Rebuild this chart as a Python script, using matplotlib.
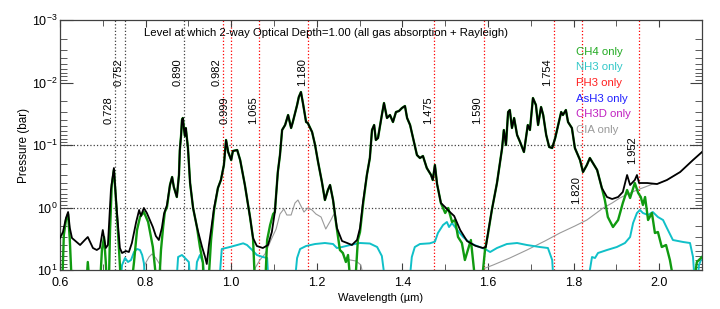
import numpy as np
import matplotlib.pyplot as plt
from matplotlib.ticker import MultipleLocator, LogLocator, NullFormatter

plt.rcParams['font.family'] = ['Liberation Sans', 'DejaVu Sans']
plt.rcParams['mathtext.fontset'] = 'custom'
plt.rcParams['mathtext.rm'] = 'Liberation Sans'
plt.rcParams['mathtext.it'] = 'Liberation Sans:italic'

# ---- data (wavelength in um, log10 of pressure in bar) ----
# 1.3 means the curve is below the bottom of the plot
total_wl = [0.600, 0.607, 0.614, 0.619, 0.623, 0.628, 0.647, 0.658, 0.665, 0.677, 0.686, 0.693,
            0.700, 0.707, 0.712, 0.719, 0.726, 0.733, 0.740, 0.745, 0.754, 0.761, 0.768, 0.778,
            0.785, 0.789, 0.796, 0.803, 0.810, 0.817, 0.824, 0.831, 0.838, 0.843, 0.850, 0.857,
            0.862, 0.866, 0.873, 0.878, 0.880, 0.883, 0.885, 0.887, 0.890, 0.892, 0.894, 0.899,
            0.904, 0.911, 0.920, 0.932, 0.939, 0.943, 0.948, 0.953, 0.960, 0.969, 0.976, 0.983,
            0.988, 0.993, 1.000, 1.004, 1.014, 1.021, 1.032, 1.044, 1.051, 1.060, 1.074, 1.086,
            1.095, 1.102, 1.109, 1.114, 1.119, 1.126, 1.133, 1.140, 1.144, 1.154, 1.158, 1.163,
            1.168, 1.175, 1.179, 1.189, 1.196, 1.203, 1.212, 1.219, 1.226, 1.231, 1.238, 1.247,
            1.259, 1.271, 1.282, 1.294, 1.301, 1.308, 1.317, 1.324, 1.329, 1.334, 1.338, 1.343,
            1.352, 1.357, 1.364, 1.371, 1.378, 1.385, 1.392, 1.399, 1.406, 1.411, 1.418, 1.425,
            1.434, 1.441, 1.448, 1.457, 1.467, 1.471, 1.476, 1.481, 1.490, 1.502, 1.511, 1.521,
            1.535, 1.551, 1.570, 1.588, 1.595, 1.600, 1.609, 1.621, 1.633, 1.637, 1.642, 1.647,
            1.651, 1.656, 1.661, 1.668, 1.675, 1.684, 1.693, 1.698, 1.705, 1.712, 1.717, 1.724,
            1.729, 1.736, 1.743, 1.750, 1.757, 1.764, 1.771, 1.775, 1.782, 1.787, 1.796, 1.803,
            1.815, 1.822, 1.831, 1.838, 1.848, 1.855, 1.866, 1.878, 1.890, 1.904, 1.915, 1.925,
            1.932, 1.943, 1.948, 1.953, 1.972, 1.995, 2.018, 2.049, 2.079, 2.100]
total_logp = [0.488, 0.392, 0.168, 0.072, 0.328, 0.488, 0.600, 0.520, 0.472, 0.648, 0.680, 0.648,
              0.360, 0.648, 0.600, -0.280, -0.632, 0.072, 0.648, 0.728, 0.696, 0.712, 0.568, 0.232,
              0.040, 0.136, 0.008, 0.088, 0.200, 0.312, 0.456, 0.520, 0.328, 0.104, -0.040, -0.360,
              -0.488, -0.328, -0.168, -0.520, -0.920, -1.160, -1.400, -1.432, -1.240, -1.144, -1.272, -0.952,
              -0.392, 0.008, 0.312, 0.632, 0.792, 0.904, 0.600, 0.360, 0.008, -0.312, -0.440, -0.680,
              -1.080, -0.888, -0.760, -0.904, -0.920, -0.760, -0.360, 0.152, 0.488, 0.616, 0.648, 0.600,
              0.392, 0.072, -0.568, -0.840, -1.240, -1.320, -1.480, -1.272, -1.368, -1.640, -1.768, -1.848,
              -1.656, -1.368, -1.352, -1.208, -1.000, -0.728, -0.408, -0.120, -0.280, -0.360, -0.120, 0.328,
              0.536, 0.568, 0.600, 0.520, 0.328, -0.088, -0.520, -0.792, -1.240, -1.320, -1.080, -1.112,
              -1.480, -1.672, -1.432, -1.480, -1.368, -1.528, -1.544, -1.592, -1.624, -1.432, -1.320, -1.112,
              -0.840, -0.792, -0.824, -0.632, -0.520, -0.440, -0.680, -0.376, -0.072, 0.008, 0.072, 0.136,
              0.360, 0.536, 0.611, 0.648, 0.632, 0.408, 0.040, -0.392, -0.952, -1.240, -1.000, -1.528,
              -1.560, -1.272, -1.432, -1.160, -1.048, -0.888, -1.320, -1.240, -1.752, -1.640, -1.320, -1.608,
              -1.480, -1.160, -0.968, -0.952, -1.112, -1.320, -1.528, -1.480, -1.560, -1.368, -1.272, -0.952,
              -0.760, -0.568, -0.680, -0.792, -0.680, -0.600, -0.312, -0.168, -0.136, -0.168, -0.248, -0.520,
              -0.360, -0.440, -0.520, -0.392, -0.392, -0.376, -0.440, -0.568, -0.760, -0.888]

ch4_wl = [0.600, 0.605, 0.609, 0.614, 0.619, 0.623, 0.628, 0.661, 0.665, 0.670, 0.693, 0.698,
          0.703, 0.707, 0.710, 0.714, 0.717, 0.721, 0.726, 0.733, 0.738, 0.743, 0.766, 0.773,
          0.780, 0.787, 0.796, 0.806, 0.817, 0.827, 0.831, 0.836, 0.841, 0.845, 0.850, 0.857,
          0.862, 0.866, 0.873, 0.878, 0.880, 0.883, 0.885, 0.887, 0.890, 0.892, 0.894, 0.899,
          0.904, 0.911, 0.920, 0.927, 0.934, 0.936, 0.946, 0.953, 0.960, 0.969, 0.976, 0.983,
          0.988, 0.993, 1.000, 1.004, 1.014, 1.021, 1.032, 1.044, 1.051, 1.056, 1.079, 1.084,
          1.091, 1.098, 1.102, 1.109, 1.114, 1.119, 1.126, 1.133, 1.140, 1.144, 1.154, 1.158,
          1.163, 1.168, 1.175, 1.179, 1.189, 1.196, 1.203, 1.212, 1.219, 1.226, 1.231, 1.238,
          1.245, 1.254, 1.261, 1.268, 1.273, 1.280, 1.289, 1.296, 1.301, 1.308, 1.317, 1.324,
          1.329, 1.334, 1.338, 1.343, 1.352, 1.357, 1.364, 1.371, 1.378, 1.385, 1.392, 1.399,
          1.406, 1.411, 1.418, 1.425, 1.434, 1.441, 1.448, 1.457, 1.467, 1.471, 1.476, 1.481,
          1.490, 1.500, 1.507, 1.516, 1.523, 1.530, 1.539, 1.546, 1.553, 1.560, 1.565, 1.572,
          1.584, 1.593, 1.600, 1.609, 1.621, 1.633, 1.637, 1.642, 1.647, 1.651, 1.656, 1.661,
          1.668, 1.675, 1.684, 1.693, 1.698, 1.705, 1.712, 1.717, 1.724, 1.729, 1.736, 1.743,
          1.750, 1.757, 1.764, 1.771, 1.775, 1.782, 1.787, 1.796, 1.803, 1.815, 1.822, 1.831,
          1.838, 1.848, 1.855, 1.866, 1.873, 1.880, 1.892, 1.904, 1.915, 1.925, 1.932, 1.943,
          1.951, 1.957, 1.962, 1.967, 1.974, 1.983, 1.990, 1.997, 2.006, 2.016, 2.025, 2.037,
          2.079, 2.088, 2.100]
ch4_logp = [1.3, 1.3, 0.440, 0.200, 0.104, 0.520, 1.3, 1.3, 0.872, 1.3, 1.3, 0.680,
            0.472, 0.872, 1.3, 1.3, 0.360, -0.360, -0.600, 0.104, 0.680, 1.3, 1.3, 0.872,
            0.360, 0.152, 0.072, 0.232, 0.632, 1.3, 1.3, 0.680, 0.312, 0.072, -0.008, -0.360,
            -0.488, -0.328, -0.168, -0.520, -0.920, -1.160, -1.400, -1.432, -1.240, -1.144, -1.272, -0.952,
            -0.392, 0.008, 0.312, 0.632, 0.888, 1.3, 1.3, 0.520, 0.040, -0.312, -0.440, -0.680,
            -1.080, -0.888, -0.760, -0.904, -0.920, -0.760, -0.360, 0.152, 0.488, 1.3, 1.3, 0.520,
            0.280, 0.104, 0.072, -0.568, -0.840, -1.240, -1.320, -1.480, -1.272, -1.368, -1.640, -1.768,
            -1.848, -1.656, -1.368, -1.352, -1.208, -1.000, -0.728, -0.408, -0.120, -0.280, -0.360, -0.120,
            0.248, 0.680, 0.728, 0.872, 0.760, 1.3, 1.3, 0.520, 0.392, -0.040, -0.520, -0.792,
            -1.240, -1.320, -1.080, -1.112, -1.480, -1.672, -1.432, -1.480, -1.368, -1.528, -1.544, -1.592,
            -1.624, -1.432, -1.320, -1.112, -0.840, -0.792, -0.824, -0.632, -0.520, -0.440, -0.680, -0.376,
            -0.072, 0.088, 0.008, 0.232, 0.200, 0.472, 0.568, 0.840, 0.680, 0.520, 0.840, 1.3,
            1.3, 0.680, 0.424, 0.040, -0.392, -0.952, -1.240, -1.000, -1.528, -1.560, -1.272, -1.432,
            -1.160, -1.048, -0.888, -1.320, -1.240, -1.752, -1.640, -1.320, -1.608, -1.480, -1.160, -0.968,
            -0.952, -1.112, -1.320, -1.528, -1.480, -1.560, -1.368, -1.272, -0.952, -0.760, -0.568, -0.680,
            -0.792, -0.680, -0.600, -0.312, -0.120, 0.152, 0.312, 0.200, -0.072, -0.280, -0.152, -0.392,
            -0.232, -0.168, -0.040, -0.168, 0.200, 0.088, 0.408, 0.392, 0.632, 0.600, 0.840, 1.3,
            1.3, 0.872, 0.792]

nh3_wl = [0.740, 0.745, 0.752, 0.759, 0.766, 0.773, 0.780, 0.787, 0.792, 0.796, 0.801,
          0.871, 0.876, 0.885, 0.892, 0.901, 0.906, 0.915, 0.920, 0.927, 0.934, 0.939,
          0.971, 0.978, 0.997, 1.014, 1.028, 1.037, 1.049, 1.060, 1.074, 1.084, 1.088,
          1.147, 1.154, 1.161, 1.175, 1.196, 1.219, 1.238, 1.247, 1.259, 1.278, 1.301, 1.324,
          1.341, 1.352, 1.362, 1.415, 1.422, 1.429, 1.441, 1.464, 1.476, 1.483, 1.495, 1.504,
          1.509, 1.516, 1.528, 1.542, 1.558, 1.574, 1.593, 1.605, 1.621, 1.644, 1.668, 1.691,
          1.721, 1.740, 1.750, 1.754, 1.831, 1.843, 1.850, 1.857, 1.878, 1.901, 1.920, 1.932,
          1.939, 1.948, 1.955, 1.962, 1.974, 1.985, 1.997, 2.009, 2.018, 2.032, 2.056, 2.072,
          2.079, 2.084, 2.088, 2.093, 2.100]
nh3_logp = [1.3, 0.920, 0.808, 0.872, 0.840, 0.712, 0.664, 0.680, 0.760, 0.888, 1.3,
            1.3, 0.792, 0.760, 0.808, 0.872, 1.3, 1.3, 0.872, 0.760, 0.872, 1.3,
            1.3, 0.664, 0.632, 0.600, 0.573, 0.600, 0.680, 0.760, 0.792, 0.808, 1.3,
            1.3, 0.808, 0.664, 0.616, 0.584, 0.568, 0.584, 0.648, 0.632, 0.600, 0.568, 0.576,
            0.632, 0.776, 1.3, 1.3, 0.792, 0.632, 0.584, 0.573, 0.547, 0.408, 0.280, 0.232,
            0.312, 0.248, 0.360, 0.472, 0.568, 0.616, 0.664, 0.712, 0.648, 0.584, 0.568, 0.600,
            0.632, 0.648, 0.840, 1.3, 1.3, 0.792, 0.808, 0.728, 0.680, 0.632, 0.568, 0.472,
            0.248, 0.088, 0.040, 0.088, 0.120, 0.072, 0.152, 0.200, 0.328, 0.520, 0.552, 0.568,
            0.792, 1.3, 1.3, 0.920, 0.792]

cia_wl = [0.787, 0.799, 0.808, 0.815, 0.824, 0.834, 0.841,
          1.049, 1.056, 1.067, 1.079, 1.093, 1.105, 1.114, 1.123, 1.130, 1.140, 1.149, 1.156,
          1.163, 1.170, 1.179, 1.189, 1.198, 1.210, 1.221, 1.233, 1.240, 1.247, 1.254, 1.266,
          1.278, 1.292, 1.303, 1.315,
          1.581, 1.588, 1.612, 1.651, 1.691, 1.733, 1.768, 1.803, 1.831, 1.850, 1.869, 1.890,
          1.908, 1.927, 1.948, 1.967, 1.985, 1.995, 2.018, 2.049, 2.079, 2.100]
cia_logp = [1.3, 0.904, 0.792, 0.744, 0.808, 0.920, 1.3,
            1.3, 0.968, 0.840, 0.744, 0.520, 0.344, 0.104, 0.024, 0.120, 0.120, -0.072, -0.120,
            -0.024, 0.072, 0.008, 0.040, 0.104, 0.152, 0.344, 0.200, 0.104, 0.328, 0.664, 0.808,
            0.840, 0.856, 0.920, 1.3,
            1.3, 0.984, 0.920, 0.808, 0.680, 0.536, 0.408, 0.296, 0.200, 0.104, 0.008, -0.072,
            -0.152, -0.216, -0.280, -0.328, -0.376, -0.376, -0.440, -0.568, -0.760, -0.888]

marker_wl = [0.728, 0.752, 0.890, 0.982, 0.999, 1.065, 1.180, 1.475, 1.590, 1.754, 1.820, 1.952]
marker_labels = ['0.728', '0.752', '0.890', '0.982', '0.999', '1.065', '1.180', '1.475',
                 '1.590', '1.754', '1.820', '1.952']
# pressure where each marker label is centred
marker_label_p = [0.0275, 0.0068, 0.0068, 0.0068, 0.0275, 0.0275, 0.0068, 0.0275,
                  0.0275, 0.0068, 0.52, 0.12]
marker_colors = ['#404040', '#404040', '#404040', 'red', 'red', 'red', 'red', 'red',
                 'red', 'red', 'red', 'red']

legend_names = ['CH4 only', 'NH3 only', 'PH3 only', 'AsH3 only', 'CH3D only', 'CIA only']
legend_colors = ['#22aa22', '#33c8c8', '#ff2020', '#2020ff', '#c020c0', '#9a9a9a']

# ---- plot ----
fig = plt.figure(figsize=(7.2, 3.09), dpi=100)
ax = fig.add_axes([0.0833, 0.1262, 0.8917, 0.809])

for wl, c in zip(marker_wl, marker_colors):
    ax.axvline(wl, color=c, linestyle=':', linewidth=0.9, zorder=1)
for p in [0.1, 1.0]:
    ax.axhline(p, color='#404040', linestyle=':', linewidth=0.9, zorder=1)

ax.plot(cia_wl, 10 ** np.array(cia_logp), color='#9a9a9a', linewidth=0.8, zorder=2)
ax.plot(nh3_wl, 10 ** np.array(nh3_logp), color='#10c0c8', linewidth=1.4, zorder=3)
ax.plot(ch4_wl, 10 ** np.array(ch4_logp), color='#109a10', linewidth=1.7, zorder=4)
ax.plot(total_wl, 10 ** np.array(total_logp), color='black', linewidth=1.3, zorder=5)

for wl, lab, p in zip(marker_wl, marker_labels, marker_label_p):
    ax.annotate(lab, xy=(wl, p), xytext=(-1, 0), textcoords='offset points',
                rotation=90, ha='right', va='center', fontsize=8, zorder=6)

ax.text(0.414, 0.947, 'Level at which 2-way Optical Depth=1.00 (all gas absorption + Rayleigh)',
        transform=ax.transAxes, ha='center', va='center', fontsize=8.2)

for i, (name, c) in enumerate(zip(legend_names, legend_colors)):
    ax.text(0.804, 0.873 - i * 0.0626, name, color=c, transform=ax.transAxes,
            ha='left', va='center', fontsize=8.2)

ax.set_yscale('log')
ax.set_xlim(0.6, 2.1)
ax.set_ylim(10, 1e-3)
ax.xaxis.set_major_locator(MultipleLocator(0.2))
ax.xaxis.set_minor_locator(MultipleLocator(0.1))
ax.xaxis.set_major_formatter(plt.FuncFormatter(lambda v, pos: f'{v:.1f}'))
ax.yaxis.set_major_locator(LogLocator(base=10, numticks=10))
ax.yaxis.set_minor_locator(LogLocator(base=10, subs=np.arange(2, 10), numticks=20))
ax.yaxis.set_minor_formatter(NullFormatter())

ax.tick_params(which='both', direction='in', top=True, right=True, color='#404040')
ax.tick_params(axis='x', which='major', length=5, pad=5, labelsize=9)
ax.tick_params(axis='x', which='minor', length=4)
ax.tick_params(axis='y', which='major', length=9, pad=2, labelsize=9)
ax.tick_params(axis='y', which='minor', length=5)
for s in ax.spines.values():
    s.set_color('#404040')
    s.set_linewidth(0.9)

ax.set_xlabel('Wavelength (µm)', fontsize=8, labelpad=3)
ax.set_ylabel('Pressure (bar)', fontsize=8.5, labelpad=1)

fig.savefig('out.png', dpi=100)
